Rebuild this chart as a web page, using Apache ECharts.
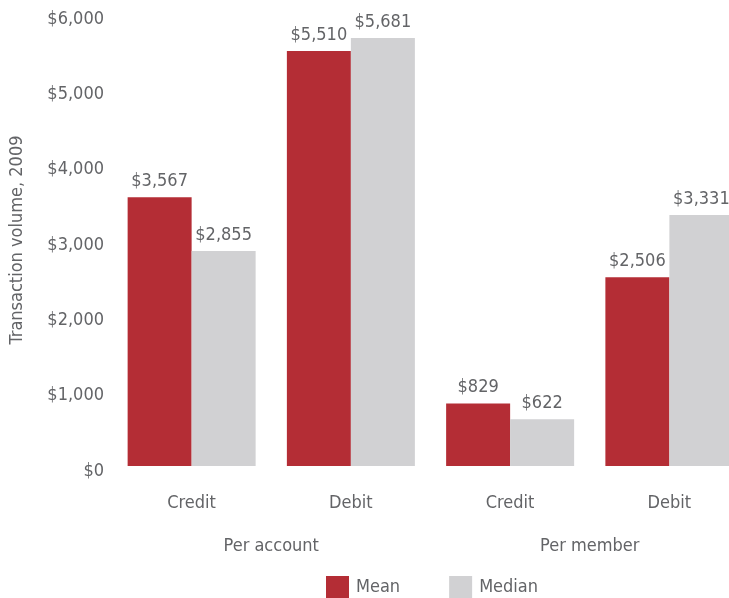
<!DOCTYPE html>
<html><head><meta charset="utf-8">
<script src="https://cdn.jsdelivr.net/npm/echarts@6/dist/echarts.min.js"></script>
<style>html,body{margin:0;padding:0;background:#fff}#c{width:729px;height:598px}</style>
</head><body><div id="c"></div>
<script>
var categories = ["Credit", "Debit", "Credit", "Debit"];
var groups = ["Per account", "Per member"];
var meanValues = [3567, 5510, 829, 2506];
var medianValues = [2855, 5681, 622, 3331];
var yTicks = [0, 1000, 2000, 3000, 4000, 5000, 6000];

var FONT = '"DejaVu Sans Condensed","Liberation Sans Narrow",sans-serif';
var GREY = '#636467';
function money(v){ return '$' + v.toLocaleString('en-US'); }
var chart = echarts.init(document.getElementById('c'));
chart.setOption({
  animation:false,
  textStyle:{fontFamily:FONT},
  grid:{left:112, top:14, width:637, height:452, containLabel:false, outerBoundsMode:'none'},
  legend:{left:326, top:576, padding:0, itemWidth:23, itemHeight:22, itemGap:49,
    icon:'rect', textStyle:{fontFamily:FONT, fontSize:18, color:GREY, padding:[0,0,0,2]},
    data:['Mean','Median']},
  xAxis:[{type:'category', data:categories, position:'bottom',
    axisLine:{show:false}, axisTick:{show:false},
    axisLabel:{fontFamily:FONT, fontSize:18, color:GREY, margin:28}},
   {type:'category', data:groups, position:'bottom', offset:71,
    axisLine:{show:false}, axisTick:{show:false},
    axisLabel:{fontFamily:FONT, fontSize:18, color:GREY, margin:0}}],
  yAxis:{type:'value', min:yTicks[0], max:yTicks[yTicks.length-1], interval:1000,
    splitLine:{show:false}, axisLine:{show:false}, axisTick:{show:false},
    axisLabel:{fontFamily:FONT, fontSize:18, color:GREY, margin:8, formatter:function(v){return '{t|' + money(v) + '}';},
      rich:{t:{fontFamily:FONT, fontSize:18, color:GREY, padding:[10,0,0,0]}}},
    name:'Transaction volume, 2009', nameLocation:'middle', nameGap:86, nameRotate:90,
    nameTextStyle:{fontFamily:FONT, fontSize:18, color:GREY}},
  series:[
   {name:'Mean', type:'bar', data:meanValues, barWidth:64, barGap:'0%', xAxisIndex:0,
    itemStyle:{color:'#b42d35'},
    label:{show:true, position:'top', distance:7, fontFamily:FONT, fontSize:18, color:GREY, formatter:function(p){return money(p.value);}}},
   {name:'Median', type:'bar', data:medianValues, barWidth:64, barGap:'0%', xAxisIndex:0,
    itemStyle:{color:'#d1d1d3'},
    label:{show:true, position:'top', distance:7, fontFamily:FONT, fontSize:18, color:GREY, formatter:function(p){return money(p.value);}}}
  ]
});
</script></body></html>
